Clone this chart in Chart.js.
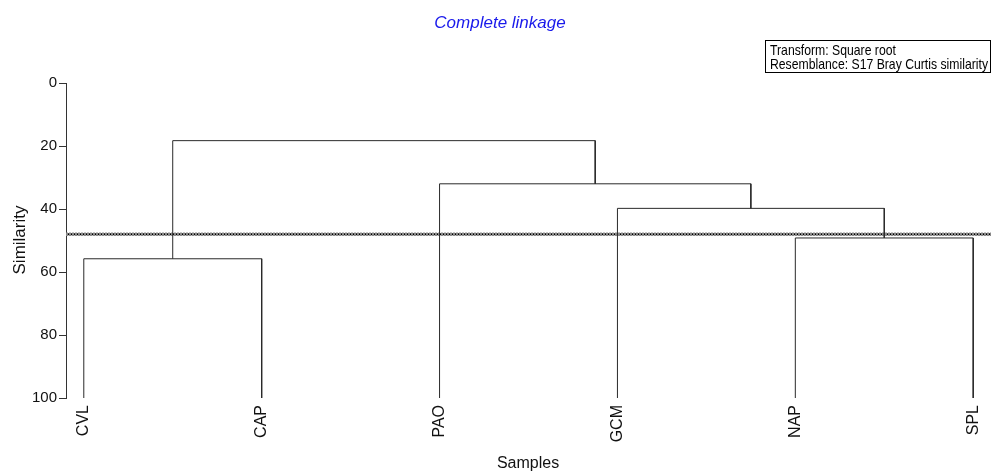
<!DOCTYPE html>
<html>
<head>
<meta charset="utf-8">
<script src="https://cdn.jsdelivr.net/npm/chart.js@4"></script>
<style>
  html, body { margin: 0; padding: 0; background: #fff; }
  #wrap { width: 992px; height: 475px; position: relative; }
</style>
</head>
<body>
<div id="wrap"><canvas id="c" width="992" height="475"></canvas></div>
<script>
// ---- data ----
const leafLabels = ['CVL', 'CAP', 'PAO', 'GCM', 'NAP', 'SPL'];
// merges: cluster ids 0..5 are leaves, 6.. are merges in order
const mergeLeft = [0, 4, 3, 2, 6];
const mergeRight = [1, 5, 7, 8, 9];
const mergeSimilarity = [55.8, 49.2, 39.8, 32.0, 18.3];
const cutoffSimilarity = 48;
const yTicks = [0, 20, 40, 60, 80, 100];
const titleText = 'Complete linkage';
const legendLines = ['Transform: Square root', 'Resemblance: S17 Bray Curtis similarity'];
const xTitle = 'Samples';
const yTitle = 'Similarity';

// ---- build dendrogram segments ----
const nodeX = leafLabels.map((_, i) => i + 1);
const nodeH = leafLabels.map(() => 100);
const datasets = [];
for (let m = 0; m < mergeLeft.length; m++) {
  const a = mergeLeft[m], b = mergeRight[m], h = mergeSimilarity[m];
  datasets.push({
    data: [
      { x: nodeX[a], y: nodeH[a] },
      { x: nodeX[a], y: h },
      { x: nodeX[b], y: h },
      { x: nodeX[b], y: nodeH[b] }
    ],
    borderColor: '#2a2a2a', borderWidth: 1, pointRadius: 0, showLine: true, tension: 0
  });
  nodeX.push((nodeX[a] + nodeX[b]) / 2);
  nodeH.push(h);
}
const xMin = 0.9, xMax = leafLabels.length + 0.1;
datasets.push({
  data: [{ x: xMin, y: cutoffSimilarity }, { x: xMax, y: cutoffSimilarity }],
  borderColor: '#8a8a8a', borderWidth: 3.5, borderDash: [2, 1], pointRadius: 0, showLine: true
});
datasets.push({
  data: [{ x: xMin, y: cutoffSimilarity }, { x: xMax, y: cutoffSimilarity }],
  borderColor: '#000', borderWidth: 2, pointRadius: 0, showLine: true
});

function fillCondensed(ctx, text, x, y, width) {
  const w = ctx.measureText(text).width;
  const s = Math.min(1, width / w);
  ctx.save();
  ctx.translate(x, y);
  ctx.scale(s, 1);
  ctx.fillText(text, 0, 0);
  ctx.restore();
}

const textPlugin = {
  id: 'texts',
  afterDraw(chart) {
    const ctx = chart.ctx;
    ctx.save();
    // title
    ctx.fillStyle = 'rgb(25,25,235)';
    ctx.font = 'italic 17px "Liberation Sans", Arial, sans-serif';
    ctx.textAlign = 'center';
    ctx.textBaseline = 'alphabetic';
    ctx.fillText(titleText, 500, 28);
    // legend box
    ctx.strokeStyle = '#000';
    ctx.lineWidth = 1;
    ctx.strokeRect(765.5, 40.5, 225, 32);
    ctx.fillStyle = '#000';
    ctx.textAlign = 'left';
    ctx.font = '15px "Liberation Sans", Arial, sans-serif';
    const full = ctx.measureText(legendLines[1]).width;
    const s = 218 / full;
    fillCondensed(ctx, legendLines[0], 770, 54.5, ctx.measureText(legendLines[0]).width * s);
    fillCondensed(ctx, legendLines[1], 770, 69, 218);
    // axis titles
    ctx.font = '16px "Liberation Sans", Arial, sans-serif';
    ctx.fillStyle = '#111';
    ctx.textAlign = 'center';
    ctx.fillText(xTitle, 528, 468);
    ctx.translate(25, 240);
    ctx.rotate(-Math.PI / 2);
    ctx.font = '17px "Liberation Sans", Arial, sans-serif';
    ctx.fillText(yTitle, 0, 0);
    ctx.restore();
  }
};

new Chart(document.getElementById('c'), {
  type: 'scatter',
  data: { datasets },
  options: {
    responsive: false,
    animation: false,
    layout: { padding: { left: 0, right: 1, top: 83, bottom: 0 } },
    plugins: { legend: { display: false }, tooltip: { enabled: false }, title: { display: false } },
    scales: {
      x: {
        type: 'linear', min: xMin, max: xMax,
        afterBuildTicks(scale) { scale.ticks = leafLabels.map((_, i) => ({ value: i + 1 })); },
        afterFit(scale) { scale.height = 77; scale.paddingLeft = 0; scale.paddingRight = 0; },
        grid: { display: false, drawTicks: false },
        border: { display: false },
        ticks: {
          autoSkip: false, minRotation: 90, maxRotation: 90, padding: 7,
          color: '#111', font: { family: '"Liberation Sans", Arial, sans-serif', size: 16 },
          callback: (v) => leafLabels[Math.round(v) - 1] || ''
        }
      },
      y: {
        type: 'linear', min: 0, max: 100, reverse: true,
        afterBuildTicks(scale) { scale.ticks = yTicks.map(v => ({ value: v })); },
        afterFit(scale) { scale.width = 66; scale.paddingTop = 0; scale.paddingBottom = 0; },
        grid: { display: true, drawOnChartArea: false, drawTicks: true, tickLength: 7, color: '#333' },
        border: { display: true, color: '#333', width: 1 },
        ticks: {
          padding: 2, color: '#111',
          font: { family: '"Liberation Sans", Arial, sans-serif', size: 15 }
        }
      }
    }
  },
  plugins: [textPlugin]
});
</script>
</body>
</html>
